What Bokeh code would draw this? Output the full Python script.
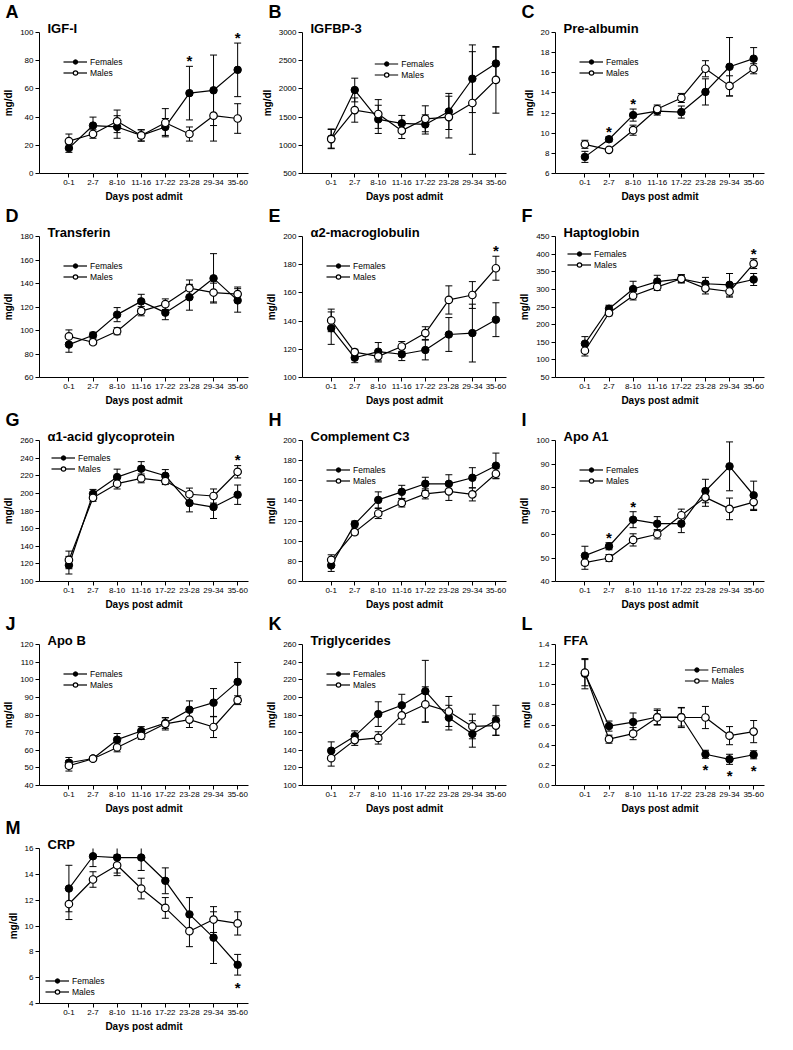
from bokeh.plotting import figure
from bokeh.models import (ColumnDataSource, Whisker, TeeHead, Range1d, FixedTicker,
                          Title, Legend, LegendItem, NumeralTickFormatter)
from bokeh.layouts import gridplot
from bokeh.embed import file_html
from bokeh.resources import INLINE
from bokeh.core.properties import value

FONT = "Liberation Sans"

categories = ["0-1", "2-7", "8-10", "11-16", "17-22", "23-28", "29-34", "35-60"]

# A  IGF-I
igf1_f = [18, 34, 33, 27, 33, 57, 59, 73.5]
igf1_f_err = [3, 6, 8, 4, 6, 19, 25, 19]
igf1_m = [23, 28, 37, 27, 36, 28, 41, 39]
igf1_m_err = [5, 3, 8, 4, 10, 5, 18, 10.5]
igf1_sig = [5, 7]

# B  IGFBP-3
igfbp3_f = [1120, 1980, 1460, 1390, 1370, 1600, 2180, 2450]
igfbp3_f_err = [170, 210, 250, 140, 170, 320, 600, 290]
igfbp3_m = [1110, 1625, 1555, 1260, 1470, 1500, 1750, 2160]
igfbp3_m_err = [170, 215, 255, 140, 230, 370, 910, 590]
igfbp3_sig = []

# C  Pre-albumin
prealb_f = [7.65, 9.4, 11.8, 12.2, 12.1, 14.1, 16.6, 17.4]
prealb_f_err = [0.55, 0.25, 0.6, 0.4, 0.6, 1.3, 2.9, 1.1]
prealb_m = [8.9, 8.35, 10.3, 12.4, 13.5, 16.4, 14.7, 16.4]
prealb_m_err = [0.4, 0.1, 0.5, 0.4, 0.45, 0.8, 1.0, 0.5]
prealb_sig = [1, 2]

# D  Transferin
transf_f = [88, 96, 113.5, 124.8, 115.2, 128.3, 144.4, 125.6]
transf_f_err = [6.5, 2.5, 6, 6, 6, 11, 21, 10]
transf_m = [95, 90, 99.4, 116.5, 122.4, 136, 132.3, 131]
transf_m_err = [5.5, 2, 3, 4, 4.5, 7, 8, 6]
transf_sig = []

# E  alpha2-macroglobulin
a2m_f = [135, 114, 118.3, 116.5, 119.5, 130.5, 131.5, 141]
a2m_f_err = [11.5, 3.5, 6.5, 4.5, 7, 12, 20.5, 12]
a2m_m = [140.5, 118, 115, 122, 131.5, 155, 158.5, 177.5]
a2m_m_err = [8, 2, 4, 3.5, 4.5, 10, 9.5, 8.5]
a2m_sig = [7]

# F  Haptoglobin
hapto_f = [146, 245, 301, 322, 330, 316, 313, 328]
hapto_f_err = [20, 10, 22, 18, 12, 18, 32, 17]
hapto_m = [126, 233, 282, 307, 330, 303, 294, 373]
hapto_m_err = [15, 8, 12, 10, 10, 16, 16, 14]
hapto_sig = [7]

# G  alpha1-acid glycoprotein
a1agp_f = [118.5, 199.5, 218.5, 228, 220, 189, 184.5, 198.5]
a1agp_f_err = [10, 5, 9, 8, 7, 10, 13, 11]
a1agp_m = [124.5, 195, 211, 217, 214, 199, 197, 224.5]
a1agp_m_err = [10, 4, 6, 5, 4, 7, 8, 7]
a1agp_sig = [7]

# H  Complement C3
c3_f = [76, 117, 141, 149, 157, 157, 163, 175]
c3_f_err = [6, 3, 8, 6.5, 6.5, 9, 10, 12.5]
c3_m = [81.5, 109, 127.5, 138, 147, 149.5, 146.5, 167]
c3_m_err = [5, 2.5, 5, 4, 5, 9, 6.5, 5]
c3_sig = []

# I  Apo A1
apoa1_f = [51, 55, 66.3, 64.6, 64.6, 78.5, 89, 76.7]
apoa1_f_err = [4, 1.5, 3.4, 3, 3.8, 5, 10.4, 6]
apoa1_m = [48, 50, 57.7, 60.1, 68.2, 75.8, 70.9, 73.8]
apoa1_m_err = [2.8, 1.5, 2.6, 2, 2.6, 3.8, 4.6, 3.6]
apoa1_sig = [1, 2]

# J  Apo B
apob_f = [52.9, 55.3, 66, 70.9, 75.4, 83, 87, 98.8]
apob_f_err = [3, 0.8, 3.5, 2.5, 3, 5, 8, 11]
apob_m = [51.2, 55.2, 61.6, 68.2, 75, 77.4, 73.2, 88.4]
apob_m_err = [3, 0.8, 2.5, 2, 3.5, 4.5, 6, 2.5]
apob_sig = []

# K  Triglycerides
trig_f = [139.5, 156, 181, 191, 207, 177, 158.5, 174]
trig_f_err = [10, 6, 14, 12.5, 35, 14, 15, 17]
trig_m = [131, 151.5, 154, 179.5, 192, 184, 167, 168]
trig_m_err = [9, 6, 7, 10, 20, 17, 14, 11]
trig_sig = []

# L  FFA
ffa_f = [1.11, 0.59, 0.63, 0.68, 0.68, 0.31, 0.26, 0.305]
ffa_f_err = [0.15, 0.05, 0.09, 0.08, 0.09, 0.04, 0.05, 0.04]
ffa_m = [1.12, 0.46, 0.515, 0.675, 0.675, 0.675, 0.495, 0.535]
ffa_m_err = [0.13, 0.04, 0.06, 0.07, 0.1, 0.11, 0.09, 0.11]
ffa_sig = [5, 6, 7]

# M  CRP
crp_f = [12.9, 15.4, 15.3, 15.3, 13.5, 10.9, 9.1, 7.0]
crp_f_err = [1.8, 0.8, 1.2, 1.0, 1.0, 1.3, 2.0, 0.8]
crp_m = [11.7, 13.6, 14.7, 12.9, 11.4, 9.6, 10.5, 10.2]
crp_m_err = [1.2, 0.6, 0.8, 0.8, 0.8, 1.2, 1.0, 0.9]
crp_sig = [7]

W = 258
H = 204
HM = 218


def make_panel(letter, name, f, fe, m, me, ylo, yhi, ystep, sig, sig_below=False,
               legend_loc="top_left", legend_margin=24, height=H, decimals=False):
    x = list(range(len(categories)))
    p = figure(width=W, height=height, title=None, toolbar_location=None,
               output_backend="svg", x_range=Range1d(-1.22, 7.45),
               y_range=Range1d(ylo, yhi), min_border_left=5, min_border_right=10,
               min_border_top=0, min_border_bottom=0)
    p.outline_line_color = None
    p.xgrid.visible = False
    p.ygrid.visible = False
    p.background_fill_color = "white"

    n = int(round((yhi - ylo) / ystep))
    yticks = [round(ylo + i * ystep, 6) for i in range(n + 1)]
    p.xaxis.ticker = FixedTicker(ticks=x, minor_ticks=[])
    p.xaxis.major_label_overrides = {i: c for i, c in enumerate(categories)}
    p.yaxis.ticker = FixedTicker(ticks=yticks, minor_ticks=[])
    if decimals:
        p.yaxis.formatter = NumeralTickFormatter(format="0.0")
    for ax in (p.xaxis[0], p.yaxis[0]):
        ax.axis_line_color = "black"
        ax.axis_line_width = 1
        ax.major_tick_line_color = "black"
        ax.major_tick_in = 0
        ax.major_tick_out = 4
        ax.minor_tick_line_color = None
        ax.major_label_text_font = FONT
        ax.major_label_text_font_size = "8px"
        ax.major_label_text_color = "black"
        ax.major_label_standoff = 2
        ax.axis_label_text_font = FONT
        ax.axis_label_text_font_size = "10px"
        ax.axis_label_text_font_style = "bold"
        ax.axis_label_text_color = "black"
        ax.axis_label_standoff = 3
    p.xaxis.axis_label = "Days post admit"
    p.yaxis.axis_label = "mg/dl"

    p.add_layout(Title(text=name, align="left", offset=8, standoff=-6,
                       text_font=FONT, text_font_size="13px",
                       text_font_style="bold", text_color="black"), "above")
    p.add_layout(Title(text=letter, align="left", offset=-34, standoff=-1,
                       text_font=FONT, text_font_size="18px",
                       text_font_style="bold", text_color="black"), "above")

    src_f = ColumnDataSource(dict(x=x, y=f, lo=[a - b for a, b in zip(f, fe)],
                                  hi=[a + b for a, b in zip(f, fe)]))
    src_m = ColumnDataSource(dict(x=x, y=m, lo=[a - b for a, b in zip(m, me)],
                                  hi=[a + b for a, b in zip(m, me)]))
    for src in (src_f, src_m):
        p.add_layout(Whisker(source=src, base="x", upper="hi", lower="lo",
                             line_color="black", line_width=1,
                             upper_head=TeeHead(size=7, line_color="black", line_width=1),
                             lower_head=TeeHead(size=7, line_color="black", line_width=1)))
    lf = p.line("x", "y", source=src_f, line_color="black", line_width=1.2)
    lm = p.line("x", "y", source=src_m, line_color="black", line_width=1.2)
    sf = p.scatter("x", "y", source=src_f, size=7.5, fill_color="black",
                   line_color="black", line_width=1)
    sm = p.scatter("x", "y", source=src_m, size=7.5, fill_color="white",
                   line_color="black", line_width=1.2)

    legend = Legend(items=[LegendItem(label="Females", renderers=[lf, sf]),
                           LegendItem(label="Males", renderers=[lm, sm])],
                    location=legend_loc, margin=legend_margin, padding=0,
                    spacing=0, label_height=11, glyph_height=11, glyph_width=24,
                    label_standoff=3, label_text_font=FONT,
                    label_text_font_size="8.5px", label_text_color="black",
                    background_fill_alpha=0, border_line_alpha=0)
    p.add_layout(legend)

    if sig:
        rng = yhi - ylo
        sx, sy = [], []
        for i in sig:
            sx.append(i)
            if sig_below:
                sy.append(min(f[i] - fe[i], m[i] - me[i]) - 0.08 * rng)
            else:
                sy.append(max(f[i] + fe[i], m[i] + me[i]) + 0.04 * rng)
        p.text(x=sx, y=sy, text=["*"] * len(sx), text_align="center",
               text_baseline="middle", text_font=value(FONT),
               text_font_size="15px", text_font_style="bold", text_color="black")
    return p


pa = make_panel("A", "IGF-I", igf1_f, igf1_f_err, igf1_m, igf1_m_err, 0, 100, 20, igf1_sig)
pb = make_panel("B", "IGFBP-3", igfbp3_f, igfbp3_f_err, igfbp3_m, igfbp3_m_err, 500, 3000, 500,
                igfbp3_sig, legend_loc="top_center", legend_margin=26)
pc = make_panel("C", "Pre-albumin", prealb_f, prealb_f_err, prealb_m, prealb_m_err, 6, 20, 2,
                prealb_sig)
pd_ = make_panel("D", "Transferin", transf_f, transf_f_err, transf_m, transf_m_err, 60, 180, 20,
                 transf_sig)
pe = make_panel("E", "\u03b12-macroglobulin", a2m_f, a2m_f_err, a2m_m, a2m_m_err, 100, 200, 20,
                a2m_sig)
pf = make_panel("F", "Haptoglobin", hapto_f, hapto_f_err, hapto_m, hapto_m_err, 50, 450, 50,
                hapto_sig, legend_margin=12)
pg = make_panel("G", "\u03b11-acid glycoprotein", a1agp_f, a1agp_f_err, a1agp_m, a1agp_m_err,
                100, 260, 20, a1agp_sig, legend_margin=12)
ph = make_panel("H", "Complement C3", c3_f, c3_f_err, c3_m, c3_m_err, 60, 200, 20, c3_sig)
pi = make_panel("I", "Apo A1", apoa1_f, apoa1_f_err, apoa1_m, apoa1_m_err, 40, 100, 10,
                apoa1_sig)
pj = make_panel("J", "Apo B", apob_f, apob_f_err, apob_m, apob_m_err, 40, 120, 10, apob_sig)
pk = make_panel("K", "Triglycerides", trig_f, trig_f_err, trig_m, trig_m_err, 100, 260, 20,
                trig_sig)
pl = make_panel("L", "FFA", ffa_f, ffa_f_err, ffa_m, ffa_m_err, 0.0, 1.4, 0.2, ffa_sig,
                sig_below=True, legend_loc="top_right", legend_margin=20, decimals=True)
pm = make_panel("M", "CRP", crp_f, crp_f_err, crp_m, crp_m_err, 4, 16, 2, crp_sig,
                sig_below=True, legend_loc="bottom_left", legend_margin=6, height=HM)

grid = gridplot([[pa, pb, pc], [pd_, pe, pf], [pg, ph, pi], [pj, pk, pl], [pm, None, None]],
                toolbar_location=None)

open("out.html", "w").write(file_html(grid, INLINE))
